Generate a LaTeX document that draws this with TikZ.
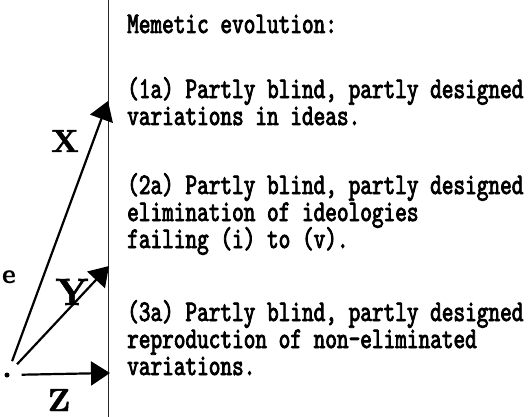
\documentclass[tikz,border=0pt]{standalone}
\usepackage{fontspec}
\usetikzlibrary{arrows.meta, positioning}
\newfontfamily\typerfont{lmmono10-regular.otf}[FakeStretch=0.74, FakeBold=2.6]
\newfontfamily\letterfont{lmroman10-bold.otf}[FakeBold=1.5]
\newcommand\memofont{\typerfont\fontsize{30}{27}\selectfont\setlength{\lineskiplimit}{-100pt}\relax}

\begin{document}
\begin{tikzpicture}[
        x=1pt, y=-1pt,
        memo/.style={anchor=base west, inner sep=0pt, align=left, text=black, font=\memofont},
        axislabel/.style={anchor=base, inner sep=0pt, font=\letterfont\fontsize{32}{32}\selectfont},
        vector/.style={-{Triangle[length=19pt, width=24pt]}, line width=2.2pt, shorten <=12pt},
        origin/.style={circle, fill=black, inner sep=0pt, minimum size=5pt}
    ]
    \useasboundingbox (0,0) rectangle (530,417);

    % divider between the vectors and the notes
    \coordinate (rtop) at (108,0);
    \coordinate (rbot) at (108,417);
    \draw[line width=0.8pt, black!85] (rtop) -- (rbot);

    % vectors
    \node[origin] (o) at (7,375) {};
    \coordinate (xtip) at (108,101);
    \coordinate (ytip) at (109,266);
    \coordinate (ztip) at (110,373);
    \draw[vector] (o) -- (xtip);
    \draw[vector] (o) -- (ytip);
    \draw[vector] (o) -- (ztip);

    \node[axislabel] (xlab) at (65,152) {X};
    \node[axislabel, font=\letterfont\fontsize{38}{38}\selectfont] (ylab) at (72,305) {Y};
    \node[axislabel] (zlab) at (59,411) {Z};
    \node[inner sep=0pt, anchor=base, font=\sffamily\bfseries\fontsize{27}{27}\selectfont] (elab) at (9,283) {e};

    % notes (placed at the baseline of their last line)
    \node[memo] (title) at (127,33) {Memetic evolution:};
    \node[memo] (var) at (127,125) {(1a) Partly blind, partly designed\\variations in ideas.};
    \node[memo] (elim) at (127,248) {(2a) Partly blind, partly designed\\elimination of ideologies\\failing (i) to (v).};
    \node[memo] (repr) at (127,375) {(3a) Partly blind, partly designed\\reproduction of non-eliminated\\variations.};
\end{tikzpicture}
\end{document}
